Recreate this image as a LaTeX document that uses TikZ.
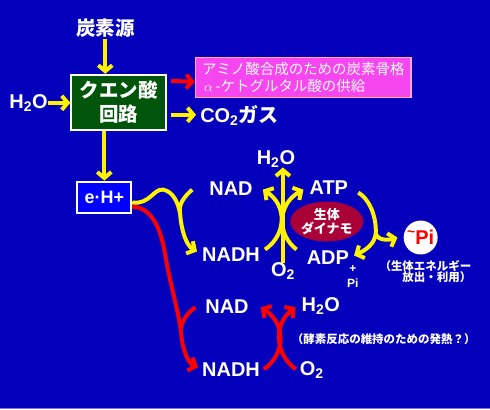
\documentclass[tikz,border=0pt]{standalone}
\usepackage{fontspec}
\setmainfont{Liberation Sans}
\newfontfamily\jp{Noto Sans CJK JP}
\usetikzlibrary{arrows.meta,calc,shapes.geometric}
\definecolor{bgblue}{RGB}{5,0,187}
\definecolor{edgeblue}{RGB}{130,120,225}
\definecolor{tcagreen}{RGB}{0,85,10}
\definecolor{ehblue}{RGB}{0,0,255}
\definecolor{supplypink}{RGB}{245,70,240}
\definecolor{supplyrim}{RGB}{255,170,200}
\definecolor{dynamored}{RGB}{168,0,55}

\begin{document}
\begin{tikzpicture}[x=1pt,y=-1pt,
					%>=stealth',
					yarrow/.style={draw=yellow,line width=4pt,-{Straight Barb[length=6pt,width=14pt]}},
					rarrow/.style={draw=red,line width=4pt,-{Straight Barb[length=6pt,width=14pt]}},
					yline/.style={draw=yellow,line width=4pt},
					rline/.style={draw=red,line width=4pt},
					lbl/.style={text=white,inner sep=0pt,font=\bfseries\fontsize{20}{22}\selectfont},
					jlbl/.style={text=white,inner sep=0pt,align=center,font=\jp\bfseries\fontsize{19.5}{24}\selectfont},
					note/.style={text=white,inner sep=0pt,font=\jp\bfseries\fontsize{11.5}{11.5}\selectfont},
					small/.style={text=white,inner sep=0pt,font=\bfseries\fontsize{12}{12}\selectfont}]

  \fill[bgblue] (0,0) rectangle (490,410);
  \draw[edgeblue,line width=1pt] (0,409.5) -- (490,409.5);
  \useasboundingbox (0,0) rectangle (490,410);

  % citric acid cycle
  \node[jlbl] (carbon) at (105,28) {炭素源};
  \node[jlbl,draw=white,line width=2pt,fill=tcagreen,minimum width=95pt,minimum height=55pt] (tca) at (118.5,102.5) {クエン酸\\回路};
  \node[lbl] (h2oin) at (28,103) {H\textsubscript{2}O};
  \node[draw=supplyrim,line width=1.5pt,fill=supplypink,text=white,minimum width=216pt,minimum height=40pt,
        align=left,font=\jp\fontsize{14.5}{17.5}\selectfont] (supply) at (303.5,77.5)
        {アミノ酸合成のための炭素骨格\\\hspace*{2pt}$\alpha$\,-ケトグルタル酸の供給};
  \node[lbl,anchor=west] (co2) at (200,116) {CO\textsubscript{2}{\jp ガス}};
  \node[lbl,draw=white,line width=2pt,fill=ehblue,minimum width=54pt,minimum height=31pt,font=\bfseries\fontsize{18}{20}\selectfont] (eh) at (104,197.5) {e·H+};

  \draw[yarrow] (carbon.south |- 0,39) -- (carbon.south |- tca.north);
  \draw[yarrow] (h2oin.east) -- (tca.west |- h2oin.east);
  \draw[rarrow] ($(tca.north east)+(4,7)$) -- ($(supply.west)+(0,4.5)$);
  \draw[yarrow] ($(tca.east)+(4,12.5)$) -- ($(co2.west |- 0,115)+(-4,0)$);
  \draw[yarrow] (eh.north |- tca.south) -- (eh.north);

  % respiratory chain
  \node[lbl] (h2oA) at (276,159) {H\textsubscript{2}O};
  \node[lbl] (nadA) at (231,189) {NAD};
  \node[lbl] (atp) at (329,188) {ATP};
  \node[lbl] (nadhA) at (231,255) {NADH};
  \node[lbl] (o2A) at (283,272) {O\textsubscript{2}};
  \node[lbl] (adp) at (328,258) {ADP};
  \node[small] (plus) at (353,270) {+};
  \node[small] (piA) at (353,284) {Pi};
  \node[ellipse,fill=dynamored,minimum width=62pt,minimum height=40pt,inner sep=0pt,text=white,align=center,
        font=\jp\bfseries\fontsize{13}{14.5}\selectfont] (dynamo) at (327,222) {生体\\ダイナモ};
  \node[circle,fill=white,minimum size=34pt,inner sep=0pt,text=red,font=\bfseries\fontsize{20}{22}\selectfont] (pi) at (421,238)
        {\raisebox{0.4em}{\fontsize{14}{14}\selectfont\textasciitilde}Pi};
  \node[note,align=right,anchor=east] (release) at (472,272) {（生体エネルギー\\放出・利用）};

  \coordinate (ymerge) at (180,214);
  \coordinate (amerge) at (376,234);
  \draw[yline] ($(eh.east)+(0,5.5)$) .. controls (150,205) and (153,189) .. (163,190)
               .. controls (173,192) and (178,203) .. (ymerge);
  \draw[yarrow] ($(nadA.west)+(-17,1)$) .. controls (184,197) and (178,205) .. (ymerge)
                .. controls (181,230) and (186,246) .. ($(nadhA.west)+(-5,-3)$);
  \draw[yarrow] (o2A.north) -- (o2A.north |- h2oA.south);
  \draw[yarrow] ($(nadhA.east)+(5,-5)$) .. controls (287,235) and (287,205) .. ($(nadA.east)+(10,1)$);
  \draw[yarrow] ($(adp.west)+(-10,-8)$) .. controls (277,235) and (277,205) .. ($(atp.west)+(-6,2)$);
  \draw[yline] ($(atp.east)+(10,5)$) .. controls (368,198) and (377,215) .. (amerge);
  \draw[yarrow] (amerge) .. controls (375,245) and (365,251) .. ($(adp.east)+(5,-2)$);
  \draw[yarrow] (amerge) .. controls (378,241) and (388,241) .. ($(pi.west)+(-6,0)$);

  % heat production
  \node[lbl] (nadB) at (227,307) {NAD};
  \node[lbl] (h2oB) at (321,307) {H\textsubscript{2}O};
  \node[lbl] (nadhB) at (231,370) {NADH};
  \node[lbl] (o2B) at (312,371) {O\textsubscript{2}};
  \node[note] (heat) at (384,340) {（酵素反応の維持のための発熱？）};

  \coordinate (rmerge) at (181,333);
  \draw[rline] ($(eh.east)+(0,9.5)$) .. controls (150,208) and (160,225) .. (165,255)
               .. controls (170,285) and (178,310) .. (rmerge);
  \draw[rarrow] ($(nadB.west)+(-10,1)$) .. controls (185,315) and (180,325) .. (rmerge)
                .. controls (182,350) and (188,364) .. ($(nadhB.west)+(-4,-2)$);
  \draw[rarrow] ($(nadhB.east)+(4,0)$) .. controls (286,354) and (286,324) .. ($(nadB.east)+(12,1)$);
  \draw[rarrow] ($(o2B.west)+(-4,-1)$) .. controls (274,354) and (274,324) .. ($(h2oB.west)+(-6,1)$);
\end{tikzpicture}
\end{document}
